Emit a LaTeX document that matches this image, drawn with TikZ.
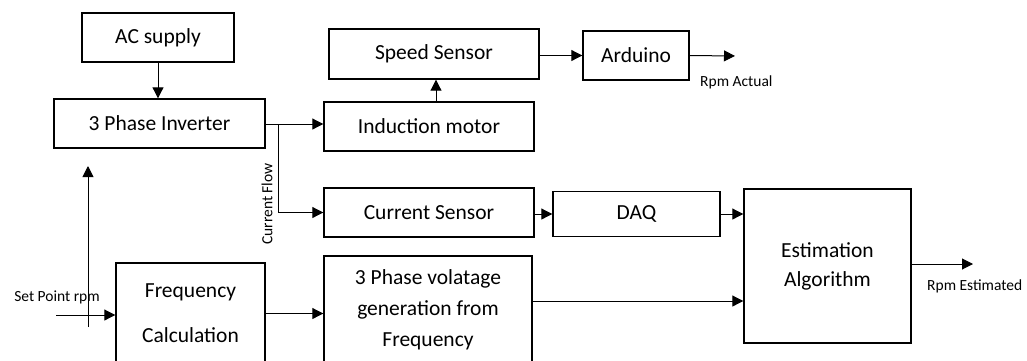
\documentclass[tikz,border=0pt]{standalone}
\usepackage{fontspec}
\setmainfont{Carlito}
\usetikzlibrary{arrows.meta}
\begin{document}
\begin{tikzpicture}[x=1pt,y=-1pt,
  blk/.style={draw,line width=1.4pt,inner sep=0pt,align=center,
    font=\fontsize{21.5}{26}\selectfont},
  lbl/.style={font=\fontsize{15.5}{18}\selectfont,inner sep=0pt},
  flow/.style={line width=1pt,-{Triangle[length=11pt,width=11pt]}},
  wire/.style={line width=1pt}]
  \useasboundingbox (0,0) rectangle (1027,360);
  \clip (0,0) rectangle (1027,360);

  % top row
  \node[blk,minimum width=152pt,minimum height=49pt] (ac) at (158,37.5) {AC supply};
  \node[blk,minimum width=211pt,minimum height=49pt] (inv) at (159.5,123.5) {3 Phase Inverter};
  \node[blk,minimum width=210pt,minimum height=50pt] (speed) at (434,54) {Speed Sensor};
  \node[blk,minimum width=106pt,minimum height=49pt] (ard) at (636,55.5) {Arduino};
  \node[blk,minimum width=210pt,minimum height=49pt] (motor) at (429,126.5) {Induction motor};

  % sensing row
  \node[blk,minimum width=210pt,minimum height=49pt] (cur) at (429,212.5) {Current Sensor};
  \node[blk,minimum width=167pt,minimum height=45pt] (daq) at (636.5,214) {DAQ};
  \node[blk,minimum width=167pt,minimum height=154pt,
    font=\fontsize{21.5}{29}\selectfont] (est) at (827.5,266) {Estimation\\Algorithm};

  % bottom row
  \node[blk,minimum width=149pt,minimum height=101pt,
    font=\fontsize{21.5}{45}\selectfont] (freq) at (190.5,313.5) {Frequency\\Calculation};
  \node[blk,minimum width=208pt,minimum height=108pt,
    font=\fontsize{21.5}{31}\selectfont] (volt) at (428,310) {3 Phase volatage\\generation from\\Frequency};

  % free ends
  \coordinate (br) at (278,124);
  \coordinate (sp) at (56,315);
  \coordinate (up0) at (88,327);
  \coordinate (up1) at (88,166);
  \coordinate (ract) at (735,56);
  \coordinate (rest) at (973,264);

  % connectors
  \draw[flow] (ac.south) -- (ac.south |- inv.north);
  \draw[flow] (inv.east |- br) -- (br -| motor.west);
  \draw[flow] (br) |- (cur.west);
  \draw[flow] ([xshift=7pt]motor.north) -- ([xshift=7pt]motor.north |- speed.south);
  \draw[flow] (speed.east |- ard.west) -- (ard.west);
  \draw[flow] (ard.east) -- (ract);
  \draw[flow] (cur.east |- daq.west) -- (daq.west);
  \draw[flow] (daq.east) -- (daq.east -| est.west);
  \draw[flow] ([yshift=9pt]volt.east) -- ([yshift=9pt]volt.east -| est.west);
  \draw[flow] (freq.east) -- (freq.east -| volt.west);
  \draw[flow] (sp) -- (sp -| freq.west);
  \draw[flow] (up0) -- (up1);
  \draw[flow] (est.east |- rest) -- (rest);

  % labels
  \node[lbl] (setp) at (57,297) {Set Point rpm};
  \node[lbl,anchor=west] (ractl) at (700,82) {Rpm Actual};
  \node[lbl,anchor=west] (restl) at (927,286) {Rpm Estimated};
  \node[lbl,rotate=90] (cflow) at (267,204) {Current Flow};
\end{tikzpicture}
\end{document}
